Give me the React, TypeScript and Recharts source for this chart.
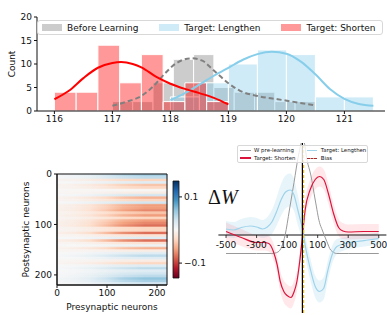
import {
  Area,
  ComposedChart,
  Legend,
  Line,
  ReferenceArea,
  ReferenceDot,
  ReferenceLine,
  Scatter,
  XAxis,
  YAxis,
} from "recharts";

// ---------- top: histogram of periods ----------
const histNames = ["Before Learning", "Target: Lengthen", "Target: Shorten"];
const histColors = ["#808080", "#87ceeb", "#ff0000"];
const histTicksX = [116, 117, 118, 119, 120, 121];
const histTicksY = [0, 5, 10, 15, 20];

const beforeBinStart = 117;
const beforeBinWidth = 0.35;
const beforeCounts = [2, 2, 6, 11, 12, 5, 4, 4, 2, 2];

const lengthenBinStart = 118;
const lengthenBinWidth = 0.5;
const lengthenCounts = [3, 6, 10, 13, 12, 3, 3];

const shortenBinStart = 116;
const shortenBinWidth = 0.375;
const shortenCounts = [4, 4, 14, 6, 12, 2, 6, 2];

const beforeKdeX = [117, 117.25, 117.5, 117.7, 117.9, 118.05, 118.2, 118.37, 118.55, 118.75, 119, 119.2, 119.5, 119.85, 120.2, 120.5];
const beforeKdeY = [1.1, 2.0, 3.2, 5.2, 7.9, 9.7, 10.8, 11.2, 10.7, 8.6, 5.9, 4.3, 3.2, 2.5, 1.8, 1.2];

const lengthenKdeX = [118, 118.25, 118.5, 118.75, 119, 119.25, 119.5, 119.75, 120, 120.25, 120.5, 120.75, 121, 121.25, 121.5];
const lengthenKdeY = [2.3, 3.8, 5.6, 7.5, 9.2, 10.9, 12.1, 12.6, 12.2, 10.5, 7.8, 4.7, 2.6, 1.5, 1.1];

const shortenKdeX = [116, 116.25, 116.5, 116.75, 117, 117.15, 117.35, 117.5, 117.75, 118, 118.25, 118.5, 118.75, 119];
const shortenKdeY = [2.5, 4.3, 7.0, 9.2, 10.2, 10.4, 10.0, 9.3, 7.3, 5.8, 4.7, 3.8, 2.8, 1.4];

// ---------- bottom left: weight matrix ----------
const neuronTicks = [0, 100, 200];
const neuronCount = 220;
const rowSize = 5;
// value at the right edge of each block of 5 postsynaptic rows
const rowValues = [
  0.05, 0.04, -0.03, 0.02, -0.04, -0.03, 0.0, -0.01, 0.03, -0.05, -0.03,
  0.03, -0.06, -0.06, -0.07, -0.04, -0.06, -0.03, -0.06, -0.07, -0.08, -0.03,
  -0.03, -0.08, -0.02, 0.02, -0.08, -0.02, 0.01, -0.05, -0.01, 0.02, 0.04,
  0.02, -0.01, -0.03, 0.02, 0.04, 0.02, 0.03, 0.04, 0.06, 0.05, 0.03,
];
// how strongly the row colour shows along the presynaptic axis
const colOffsets = [0, 0.15, 0.3, 0.45, 0.6, 0.8, 1];
const colFactor = [0.08, 0.15, 0.3, 0.55, 0.82, 1, 1];

const cbarMin = -0.145;
const cbarMax = 0.148;
const cbarTicks = [-0.1, 0.1];
const rdbuStops = ["#67001f", "#b2182b", "#d6604d", "#f4a582", "#fddbc7", "#f7f7f7", "#d1e5f0", "#92c5de", "#4393c3", "#2166ac", "#053061"];

// ---------- bottom right: weight change curves ----------
const dwNames = ["W pre-learning", "Target: Lengthen", "Target: Shorten", "Bias"];
const dwTicks = [-500, -300, -100, 100, 300, 500];
const biasX = 8;

const preX = [-500, -300, -200, -160, -135, -113, -85, -55, -25, 0, 10, 30, 55, 84, 112, 130, 160, 185, 225, 300, 500];
const preY = [-0.37, -0.37, -0.37, -0.34, -0.23, 0.0, 0.5, 1.05, 1.6, 1.88, 1.86, 1.5, 1.2, 0.7, 0.25, 0.1, -0.13, -0.3, -0.37, -0.37, -0.37];

const lengthenX = [-500, -450, -400, -340, -300, -260, -230, -200, -170, -140, -110, -80, -55, -30, -10, 0, 18, 51, 84, 112, 139, 165, 194, 226, 281, 358, 430, 500];
const lengthenY = [0.12, 0.1, 0.15, 0.18, 0.16, 0.12, 0.16, 0.26, 0.46, 0.7, 0.86, 0.9, 0.8, 0.5, 0.26, 0.14, -0.2, -0.67, -1.03, -1.13, -1.07, -0.73, -0.4, -0.23, -0.17, -0.13, -0.1, -0.07];
const lengthenErr = [0.16, 0.16, 0.17, 0.18, 0.18, 0.18, 0.2, 0.24, 0.28, 0.32, 0.33, 0.33, 0.32, 0.3, 0.26, 0.24, 0.22, 0.22, 0.22, 0.22, 0.22, 0.2, 0.18, 0.15, 0.13, 0.12, 0.12, 0.12];

const shortenX = [-500, -400, -300, -250, -220, -190, -165, -145, -120, -100, -75, -55, -36, -18, 0, 18, 50, 84, 112, 140, 170, 204, 237, 265, 300, 400, 500];
const shortenY = [0.07, -0.05, -0.15, -0.15, -0.17, -0.33, -0.6, -0.93, -1.14, -1.21, -1.25, -1.14, -0.93, -0.54, -0.04, 0.5, 0.9, 1.11, 1.17, 1.11, 0.83, 0.43, 0.15, 0.08, 0.06, 0.07, 0.07];
const shortenErr = [0.18, 0.17, 0.16, 0.16, 0.16, 0.17, 0.18, 0.2, 0.22, 0.22, 0.22, 0.22, 0.2, 0.18, 0.17, 0.18, 0.2, 0.2, 0.2, 0.2, 0.2, 0.19, 0.17, 0.16, 0.15, 0.15, 0.15];

const ink = "#111";

const toBins = (start: number, width: number, counts: number[]) =>
  counts.map((c, i) => ({ x1: start + i * width, x2: start + (i + 1) * width, c }));

const toLine = (xs: number[], ys: number[]) => xs.map((x, i) => ({ x, y: ys[i] }));

const toBand = (xs: number[], ys: number[], err: number[]) =>
  xs.map((x, i) => ({ x, y: ys[i], band: [ys[i] - err[i], ys[i] + err[i]] }));

// rows of the matrix as a table, so the axes have something to measure
const heatRows = rowValues.map((v, i) => ({ x: neuronCount, y: (i + 1) * rowSize, v }));
const cbarRows = [
  { x: 0, y: cbarMin },
  { x: 1, y: cbarMax },
];

function hex(c: string) {
  return [1, 3, 5].map((i) => parseInt(c.slice(i, i + 2), 16));
}

function rdbu(v: number) {
  const n = rdbuStops.length - 1;
  const t = Math.min(1, Math.max(0, (v - cbarMin) / (cbarMax - cbarMin))) * n;
  const i = Math.min(Math.floor(t), n - 1);
  const f = t - i;
  const a = hex(rdbuStops[i]);
  const b = hex(rdbuStops[i + 1]);
  const m = a.map((av, k) => Math.round(av + (b[k] - av) * f));
  return `rgb(${m[0]},${m[1]},${m[2]})`;
}

const vTitle = (text: string, dx: number) => (props: any) => {
  const vb = props.viewBox || { x: 0, y: 0, width: 0, height: 0 };
  const x = vb.x + dx;
  const y = vb.y + vb.height / 2;
  return (
    <text x={x} y={y} transform={`rotate(-90 ${x} ${y})`} textAnchor="middle" dominantBaseline="central" fontSize={9} fill={ink}>
      {text}
    </text>
  );
};

const hTitle = (text: string, dy: number) => (props: any) => {
  const vb = props.viewBox || { x: 0, y: 0, width: 0, height: 0 };
  return (
    <text x={vb.x + vb.width / 2} y={vb.y + dy} textAnchor="middle" dominantBaseline="central" fontSize={9} fill={ink}>
      {text}
    </text>
  );
};

const tickText = (text: string) => (props: any) => {
  const vb = props.viewBox || { x: 0, y: 0, width: 0, height: 0 };
  return (
    <text x={vb.x + vb.width / 2} y={vb.y + 10} textAnchor="middle" dominantBaseline="central" fontSize={9} fill={ink}>
      {text}
    </text>
  );
};

const noShape = () => <g />;

function TopLegend() {
  return (
    <div
      style={{
        display: "flex",
        alignItems: "center",
        gap: 21,
        height: 15,
        boxSizing: "border-box",
        border: "1px solid #d8d8d8",
        borderRadius: 3,
        background: "rgba(255,255,255,0.8)",
        paddingLeft: 4,
        fontSize: 9,
        color: ink,
        whiteSpace: "nowrap",
      }}
    >
      {histNames.map((n, i) => (
        <div key={n} style={{ display: "flex", alignItems: "center", gap: 5 }}>
          <span style={{ display: "inline-block", width: 20, height: 7, background: histColors[i], opacity: 0.4 }} />
          <span>{n}</span>
        </div>
      ))}
    </div>
  );
}

function Histogram() {
  const groups = [
    { bins: toBins(beforeBinStart, beforeBinWidth, beforeCounts), color: histColors[0] },
    { bins: toBins(lengthenBinStart, lengthenBinWidth, lengthenCounts), color: histColors[1] },
    { bins: toBins(shortenBinStart, shortenBinWidth, shortenCounts), color: histColors[2] },
  ];
  return (
    <ComposedChart width={387} height={130} margin={{ top: 17, right: 2, bottom: 0, left: 7 }}>
      <XAxis
        type="number"
        dataKey="x"
        domain={[115.7, 121.7]}
        allowDataOverflow
        ticks={histTicksX}
        height={19}
        tickSize={3}
        stroke={ink}
        tick={{ fontSize: 9, fill: ink }}
      />
      <YAxis
        type="number"
        domain={[0, 20]}
        ticks={histTicksY}
        width={30}
        tickSize={3}
        stroke={ink}
        tick={{ fontSize: 9, fill: ink }}
        label={vTitle("Count", 4.7)}
      />
      {groups.map((g, gi) =>
        g.bins.map((b, i) => (
          <ReferenceArea
            key={`${gi}-${i}`}
            x1={b.x1}
            x2={b.x2}
            y1={0}
            y2={b.c}
            fill={g.color}
            fillOpacity={0.4}
            stroke="#fff"
            strokeWidth={1}
            ifOverflow="visible"
          />
        )),
      )}
      <Line data={toLine(beforeKdeX, beforeKdeY)} dataKey="y" type="monotone" stroke="#808080" strokeWidth={2} strokeDasharray="5 3" dot={false} isAnimationActive={false} />
      <Line data={toLine(lengthenKdeX, lengthenKdeY)} dataKey="y" type="monotone" stroke="#87ceeb" strokeWidth={2} dot={false} isAnimationActive={false} />
      <Line data={toLine(shortenKdeX, shortenKdeY)} dataKey="y" type="monotone" stroke="#ff0000" strokeWidth={2} dot={false} isAnimationActive={false} />
      <Legend layout="vertical" align="center" verticalAlign="middle" wrapperStyle={{ left: 37, top: 20, width: 346 }} content={() => <TopLegend />} />
    </ComposedChart>
  );
}

function Heatmap() {
  return (
    <ComposedChart width={200} height={155} margin={{ top: 14, right: 33, bottom: 0, left: 0 }}>
      <defs>
        {rowValues.map((v, i) => (
          <linearGradient key={i} id={`row${i}`} x1="0" y1="0" x2="1" y2="0">
            {colOffsets.map((o, j) => (
              <stop key={j} offset={o} stopColor={rdbu(v * colFactor[j])} />
            ))}
          </linearGradient>
        ))}
      </defs>
      <XAxis
        type="number"
        dataKey="x"
        domain={[0, neuronCount]}
        allowDataOverflow
        ticks={neuronTicks}
        height={30}
        tickSize={3}
        stroke={ink}
        tick={{ fontSize: 9, fill: ink }}
        label={hTitle("Presynaptic neurons", 21.7)}
      />
      <YAxis
        type="number"
        dataKey="y"
        domain={[0, neuronCount]}
        allowDataOverflow
        reversed
        ticks={neuronTicks}
        width={57}
        tickSize={3}
        stroke={ink}
        tick={{ fontSize: 9, fill: ink }}
        label={vTitle("Postsynaptic neurons", 25.8)}
      />
      {rowValues.map((v, i) => (
        <ReferenceArea
          key={i}
          x1={0}
          x2={neuronCount}
          y1={i * rowSize}
          y2={(i + 1) * rowSize}
          fill={`url(#row${i})`}
          fillOpacity={1}
          stroke={`url(#row${i})`}
          strokeWidth={0.6}
        />
      ))}
      <ReferenceArea x1={0} x2={neuronCount} y1={0} y2={neuronCount} fill="none" stroke={ink} strokeWidth={1} />
      <Scatter data={heatRows} shape={noShape} isAnimationActive={false} />
    </ComposedChart>
  );
}

function Colorbar() {
  return (
    <ComposedChart width={46} height={120} margin={{ top: 11, right: 0, bottom: 12, left: 8 }}>
      <defs>
        <linearGradient id="cbar" x1="0" y1="0" x2="0" y2="1">
          {rdbuStops.map((c, i) => (
            <stop key={i} offset={i / (rdbuStops.length - 1)} stopColor={rdbuStops[rdbuStops.length - 1 - i]} />
          ))}
        </linearGradient>
      </defs>
      <XAxis type="number" dataKey="x" domain={[0, 1]} hide height={0} />
      <YAxis
        type="number"
        dataKey="y"
        orientation="right"
        domain={[cbarMin, cbarMax]}
        allowDataOverflow
        ticks={cbarTicks}
        width={32}
        tickSize={3}
        axisLine={false}
        stroke={ink}
        tick={{ fontSize: 9, fill: ink }}
        tickFormatter={(v: number) => (v < 0 ? `\u2212${Math.abs(v)}` : `${v}`)}
      />
      <ReferenceArea x1={0} x2={1} y1={cbarMin} y2={cbarMax} fill="url(#cbar)" fillOpacity={1} stroke={ink} strokeWidth={0.8} />
      <Scatter data={cbarRows} shape={noShape} isAnimationActive={false} />
    </ComposedChart>
  );
}

function DwLegend() {
  const swatches = [
    { color: "#999", width: 1, dash: false },
    { color: "#9fd3ea", width: 1.5, dash: false },
    { color: "#dc143c", width: 2, dash: false },
    { color: "#a52a2a", width: 1.5, dash: true },
  ];
  return (
    <div
      style={{
        display: "grid",
        gridTemplateColumns: "66.7px auto",
        width: 131.6,
        height: 18.3,
        boxSizing: "border-box",
        border: "0.7px solid #d8d8d8",
        borderRadius: 2,
        background: "rgba(255,255,255,0.8)",
        padding: "1.3px 2.4px",
        fontSize: 5.4,
        lineHeight: "7.3px",
        color: ink,
        whiteSpace: "nowrap",
      }}
    >
      {[0, 1, 2, 3].map((i) => (
        <div key={i} style={{ display: "flex", alignItems: "center", gap: 3.3 }}>
          <span
            style={{
              display: "inline-block",
              width: 10.7,
              borderTop: `${swatches[i].width}px ${swatches[i].dash ? "dashed" : "solid"} ${swatches[i].color}`,
            }}
          />
          <span>{dwNames[i]}</span>
        </div>
      ))}
    </div>
  );
}

function WeightChange() {
  const pre = toLine(preX, preY);
  const lengthen = toBand(lengthenX, lengthenY, lengthenErr);
  const shorten = toBand(shortenX, shortenY, shortenErr);
  return (
    <ComposedChart width={177} height={175} margin={{ top: 3, right: 0.6, bottom: 2, left: 8.4 }}>
      <XAxis type="number" dataKey="x" domain={[-550, 550]} hide height={0} />
      <YAxis type="number" domain={[-1.56, 1.84]} hide allowDataOverflow width={0} />
      <Area data={lengthen} dataKey="band" type="monotone" fill="#87ceeb" fillOpacity={0.2} stroke="none" isAnimationActive={false} />
      <Area data={shorten} dataKey="band" type="monotone" fill="#ff6070" fillOpacity={0.15} stroke="none" isAnimationActive={false} />
      <ReferenceLine y={0} stroke={ink} strokeWidth={1} />
      {dwTicks.map((t) => (
        <ReferenceLine key={`t${t}`} segment={[{ x: t, y: 0 }, { x: t, y: -0.06 }]} stroke={ink} strokeWidth={0.8} />
      ))}
      {dwTicks.map((t) => (
        <ReferenceDot key={`l${t}`} x={t} y={0} r={0} fill="none" stroke="none" label={tickText(String(t))} />
      ))}
      <Line data={pre} dataKey="y" type="monotone" stroke="#999" strokeWidth={1} dot={false} isAnimationActive={false} />
      <Line data={lengthen} dataKey="y" type="monotone" stroke="#9fd3ea" strokeWidth={1.2} dot={false} isAnimationActive={false} />
      <Line data={shorten} dataKey="y" type="monotone" stroke="#dc143c" strokeWidth={1.2} dot={false} isAnimationActive={false} />
      <ReferenceLine x={0} stroke="#000" strokeWidth={1.2} />
      <ReferenceLine x={biasX} stroke="#f2c200" strokeWidth={1.2} strokeDasharray="3 2" />
      <Legend layout="vertical" align="center" verticalAlign="middle" wrapperStyle={{ left: 26.7, top: 5, width: 131.6 }} content={() => <DwLegend />} />
    </ComposedChart>
  );
}

export default function App() {
  return (
    <div
      style={{
        position: "absolute",
        left: 0,
        top: 0,
        width: 387,
        height: 315,
        overflow: "hidden",
        background: "#fff",
        fontFamily: "'DejaVu Sans', sans-serif",
        color: ink,
      }}
    >
      <div style={{ position: "absolute", left: 0, top: 0 }}>
        <Histogram />
      </div>
      <div style={{ position: "absolute", left: 0, top: 160 }}>
        <Heatmap />
      </div>
      <div style={{ position: "absolute", left: 210, top: 140 }}>
        <WeightChange />
      </div>
      <div style={{ position: "absolute", left: 165, top: 170 }}>
        <Colorbar />
      </div>
      <div
        style={{
          position: "absolute",
          left: 208,
          top: 186.5,
          fontFamily: "'Liberation Serif', serif",
          fontSize: 20,
          lineHeight: "20px",
          whiteSpace: "nowrap",
        }}
      >
        Δ<i>W</i>
      </div>
    </div>
  );
}
